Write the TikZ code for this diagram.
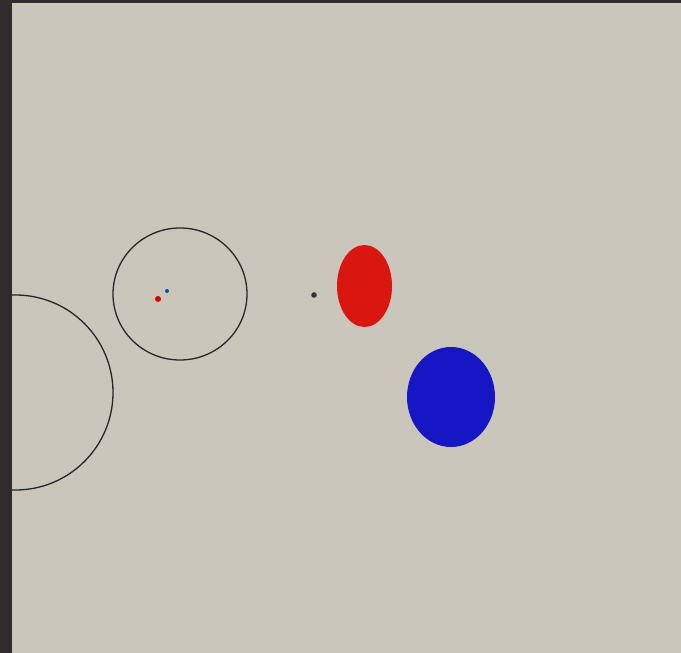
\documentclass[tikz,border=0pt]{standalone}
\usepackage{xcolor}
\usepackage{tikz}

\definecolor{canvas}{RGB}{203,198,188}
\definecolor{frame}{RGB}{50,43,43}
\definecolor{blobred}{RGB}{218,22,16}
\definecolor{blobblue}{RGB}{22,22,196}

\begin{document}
\begin{tikzpicture}[
    x=0.03cm, y=-0.03cm,
    ring/.style={draw=black!85, line width=1.1pt},
    blob/.style={draw=none},
    speck/.style={draw=none, fill=black!80}
]
\useasboundingbox (0,0) rectangle (681,653);
\fill[canvas] (0,0) rectangle (681,653);

% outlines
\draw[ring] (15.5,392.5) circle (97.5);
\draw[ring] (180,294) ellipse (67 and 66);

% small marks
\fill[red!85!black] (158,299) circle (3);
\fill[teal!70!blue] (167,291) circle (2);
\fill[speck] (314,295) circle (2.8);

% filled shapes
\fill[blobred, blob] (364.5,286) ellipse (27.5 and 41);
\fill[blobblue, blob] (451,397) ellipse (44 and 50);

% frame
\fill[frame] (0,0) rectangle (12,653);
\fill[frame] (0,0) rectangle (681,3);
\end{tikzpicture}
\end{document}
